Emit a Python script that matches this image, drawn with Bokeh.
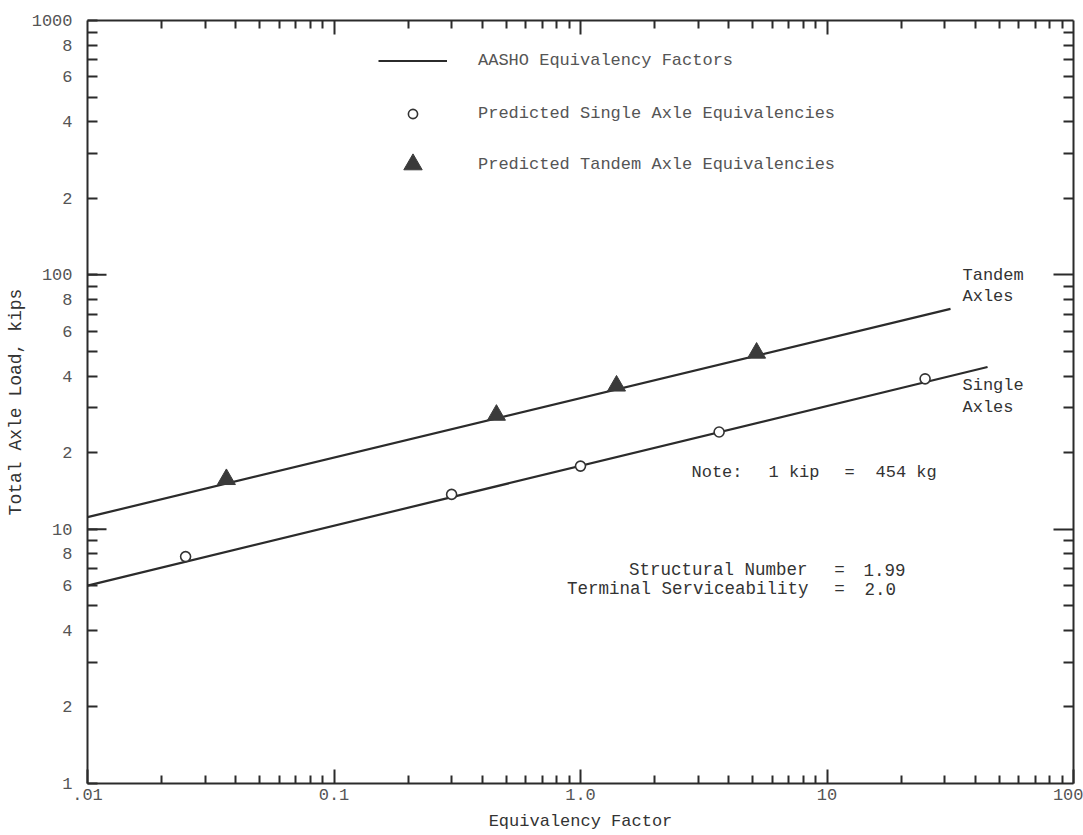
from bokeh.plotting import figure
from bokeh.models import Legend, LegendItem, FixedTicker, LogAxis, Label
from bokeh.embed import file_html
from bokeh.resources import INLINE

# ---------------- data ----------------
x_decades = [0.01, 0.1, 1.0, 10.0, 100.0]
x_tick_labels = [".01", "0.1", "1.0", "10", "100"]
y_labeled_ticks = [1, 2, 4, 6, 8, 10, 20, 40, 60, 80, 100, 200, 400, 600, 800, 1000]
y_tick_labels = ["1", "2", "4", "6", "8", "10", "2", "4", "6", "8",
                 "100", "2", "4", "6", "8", "1000"]
y_decades = [1, 10, 100, 1000]

# predicted single axle equivalencies (open circles)
single_x = [0.025, 0.30, 1.0, 3.65, 25.0]
single_y = [7.8, 13.7, 17.7, 24.1, 39.0]

# predicted tandem axle equivalencies (filled triangles)
tandem_x = [0.0366, 0.456, 1.40, 5.18]
tandem_y = [15.7, 28.1, 36.6, 49.3]

# AASHO equivalency factor lines
aasho_single_x = [0.01, 44.8]
aasho_single_y = [6.0, 43.4]
aasho_tandem_x = [0.01, 31.7]
aasho_tandem_y = [11.15, 73.5]

# ---------------- figure ----------------
FONT = "Liberation Mono"
INK = "#2b2b2b"

p = figure(width=1083, height=835, x_axis_type="log", y_axis_type="log",
           x_range=(0.01, 100), y_range=(1, 1000),
           output_backend="svg", toolbar_location=None,
           min_border_left=87, min_border_right=10,
           min_border_top=20, min_border_bottom=52)
p.grid.visible = False
p.outline_line_color = None
p.background_fill_color = "white"
p.border_fill_color = "white"

x_minor = [m * d for d in x_decades[:-1] for m in range(2, 10)]
y_minor_unlabeled = [m * d for d in y_decades[:-1] for m in (3, 5, 7, 9)]
y_minor_all = [m * d for d in y_decades[:-1] for m in range(2, 10)]

def style_axis(ax, major_in, minor_in):
    ax.axis_line_color = INK
    ax.axis_line_width = 2
    ax.major_tick_line_color = INK
    ax.major_tick_line_width = 2
    ax.minor_tick_line_color = INK
    ax.minor_tick_line_width = 2
    ax.major_tick_in = major_in
    ax.major_tick_out = 0
    ax.minor_tick_in = minor_in
    ax.minor_tick_out = 0
    ax.major_label_text_font = FONT
    ax.major_label_text_font_size = "17px"
    ax.major_label_text_color = "#555555"
    ax.axis_label_text_font = FONT
    ax.axis_label_text_font_size = "17px"
    ax.axis_label_text_font_style = "normal"
    ax.axis_label_text_color = "#333333"

# bottom axis
xa = p.xaxis[0]
xa.ticker = FixedTicker(ticks=x_decades, minor_ticks=x_minor)
xa.major_label_overrides = {t: s for t, s in zip(x_decades, x_tick_labels)}
style_axis(xa, 14, 8)
xa.major_label_standoff = 5
xa.axis_label = "Equivalency Factor"
xa.axis_label_standoff = 9

# left axis
ya = p.yaxis[0]
ya.ticker = FixedTicker(ticks=y_labeled_ticks, minor_ticks=y_minor_unlabeled)
ya.major_label_overrides = {t: s for t, s in zip(y_labeled_ticks, y_tick_labels)}
style_axis(ya, 10, 10)
ya.major_label_standoff = 15
ya.axis_label = "Total Axle Load, kips"
ya.axis_label_text_font_size = "18px"
ya.axis_label_standoff = 3

# top axis (ticks only)
top = LogAxis(ticker=FixedTicker(ticks=x_decades[1:-1], minor_ticks=x_minor))
style_axis(top, 14, 8)
top.major_label_text_color = None
top.major_label_text_font_size = "1px"
top.major_label_standoff = 0
p.add_layout(top, "above")

# right axis (ticks only)
right = LogAxis(ticker=FixedTicker(ticks=y_decades[1:-1], minor_ticks=y_minor_all))
style_axis(right, 20, 10)
right.major_label_text_color = None
right.major_label_text_font_size = "1px"
right.major_label_standoff = 0
p.add_layout(right, "right")

# long decade ticks on the left axis
p.ray(x=[x_decades[0]] * 2, y=y_decades[1:-1], length=19, length_units="screen",
      angle=0, line_color=INK, line_width=2)

# ---------------- data marks ----------------
l_single = p.line(aasho_single_x, aasho_single_y, line_color=INK, line_width=2.2)
l_tandem = p.line(aasho_tandem_x, aasho_tandem_y, line_color=INK, line_width=2.2)
r_single = p.scatter(single_x, single_y, marker="circle", size=10,
                     fill_color="white", line_color="#333333", line_width=1.6)
r_tandem = p.scatter(tandem_x, tandem_y, marker="triangle", size=18,
                     fill_color="#3a3a3a", line_color="#3a3a3a", line_width=1)

# ---------------- legends ----------------
def make_legend(items, gh, spacing, loc):
    lg = Legend(items=items, location=loc, orientation="vertical",
                glyph_width=69, glyph_height=gh, label_height=gh,
                label_standoff=31, spacing=spacing, padding=0, margin=0,
                border_line_color=None, background_fill_alpha=0,
                label_text_font=FONT, label_text_font_size="17px",
                label_text_color="#555555")
    p.add_layout(lg, "center")
    return lg

make_legend([LegendItem(label="AASHO Equivalency Factors", renderers=[l_single]),
             LegendItem(label="Predicted Single Axle Equivalencies", renderers=[r_single])],
            23, 30, (291, 658))
make_legend([LegendItem(label="Predicted Tandem Axle Equivalencies", renderers=[r_tandem])],
            46, 0, (291, 596))

# ---------------- annotations ----------------
def xd(px):
    return 10 ** ((px - 87) / 246.5 - 2)

def yd(py):
    return 10 ** ((783 - py) / 254)

def note(text, px, py, align="left", color="#333333", size="17px"):
    p.add_layout(Label(x=xd(px), y=yd(py), text=text, text_font=FONT,
                       text_font_size=size, text_color=color,
                       text_align=align, text_baseline="middle"))

note("Tandem", 962, 276)
note("Axles", 962, 297)
note("Single", 962, 386)
note("Axles", 962, 407)

note("Note:", 691, 472)
note("1 kip", 768, 472)
note("=", 849, 472, "center")
note("454 kg", 875, 472)

note("Structural Number", 807, 570, "right", size="17.5px")
note("=", 839, 570, "center", size="17.5px")
note("1.99", 863, 570, size="17.5px")
note("Terminal Serviceability", 808, 589, "right", size="17.5px")
note("=", 839, 589, "center", size="17.5px")
note("2.0", 864, 589, size="17.5px")

open("out.html", "w").write(file_html(p, INLINE))
